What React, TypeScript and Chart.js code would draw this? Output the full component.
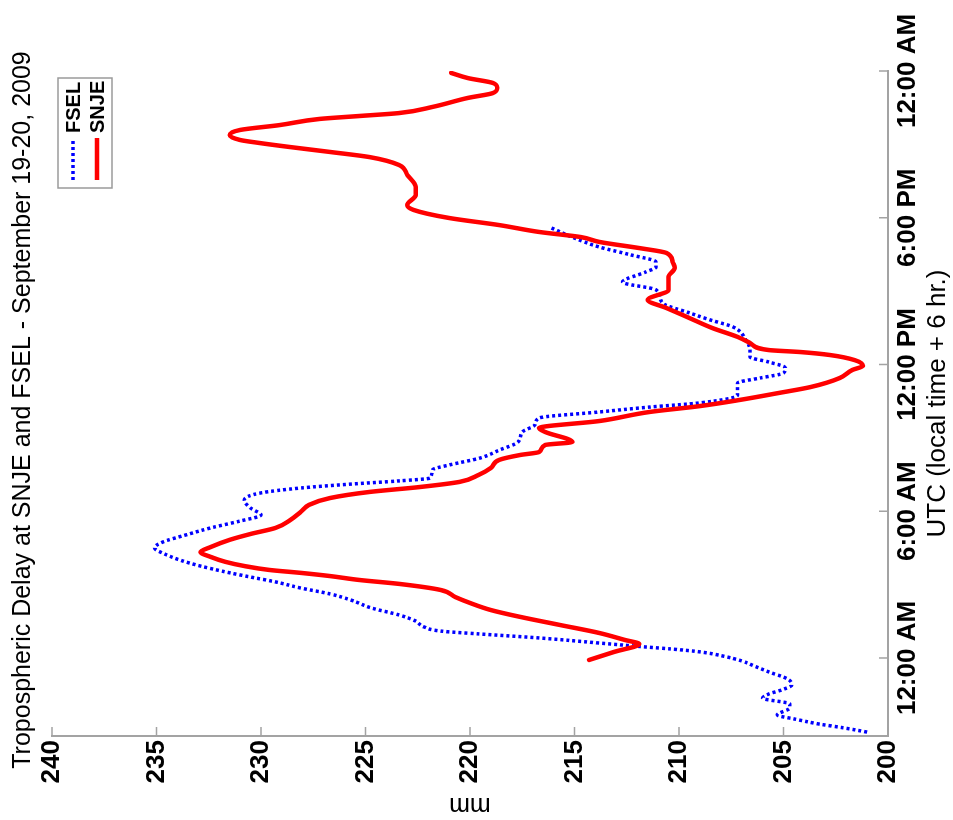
import React, { useEffect, useRef } from 'react';
import { Chart, registerables } from 'chart.js';

Chart.register(...registerables);

// Hours relative to 00:00 UTC, 20 Sep 2009 (negative = 19 Sep)
const fselHours = [
  -3.03, -2.86, -2.70, -2.49, -2.33, -2.04, -1.88, -1.64, -1.47, -1.31, -1.10, -0.86, -0.57, -0.33, -0.12,
  0.08, 0.25, 0.37, 0.45, 0.61, 0.82, 0.98, 1.10, 1.27, 1.51, 1.76, 2.04, 2.37, 2.62, 2.86, 3.11, 3.31,
  3.52, 3.76, 4.01, 4.25, 4.50, 4.74, 5.03, 5.32, 5.60, 5.85, 6.13, 6.46, 6.75, 6.95, 7.11, 7.24, 7.36,
  7.69, 7.89, 8.18, 8.50, 8.83, 9.24, 9.53, 9.81, 10.06, 10.26, 10.43, 10.75, 11.24, 11.45, 11.65, 11.86,
  12.10, 12.31, 12.59, 13.00, 13.53, 13.82, 14.11, 14.52, 15.05, 15.37, 15.78, 15.99, 16.19, 16.48, 16.80,
  17.17, 17.58,
];
const fselMm = [
  201.0, 202.1, 203.3, 204.5, 205.3, 204.7, 204.7, 206.0, 205.7, 205.1, 204.6, 204.8, 205.7, 206.4, 207.0,
  207.9, 209.0, 210.4, 211.6, 213.8, 216.7, 219.5, 221.4, 222.2, 222.6, 223.4, 224.7, 225.7, 226.7, 228.1,
  229.3, 230.5, 231.7, 232.9, 233.9, 234.6, 235.1, 234.7, 233.6, 232.4, 231.0, 230.0, 230.5, 230.8, 230.0,
  228.1, 225.7, 223.4, 221.9, 221.8, 221.0, 219.5, 218.6, 217.7, 217.5, 216.9, 216.7, 213.8, 211.4, 209.0,
  207.2, 207.2, 206.1, 205.0, 204.9, 205.7, 206.6, 206.6, 206.8, 207.4, 208.5, 209.5, 210.8, 211.1, 212.7,
  211.6, 211.1, 211.1, 212.3, 213.8, 215.0, 216.1,
];

const snjeHours = [
  -0.08, 0.25, 0.57, 0.74, 1.02, 1.35, 1.68, 1.96, 2.25, 2.49, 2.78, 3.03, 3.19, 3.35, 3.48, 3.60, 3.76,
  3.93, 4.13, 4.33, 4.54, 4.83, 5.07, 5.32, 5.64, 5.97, 6.26, 6.54, 6.79, 6.99, 7.20, 7.48, 7.77, 8.10,
  8.30, 8.42, 8.71, 8.83, 9.24, 9.40, 9.69, 10.06, 10.30, 10.55, 10.84, 11.08, 11.45, 11.78, 11.94, 12.18,
  12.39, 12.51, 12.59, 12.88, 13.13, 13.49, 13.90, 14.31, 14.64, 15.05, 15.58, 15.95, 16.19, 16.56, 16.76,
  17.01, 17.21, 17.42, 17.70, 17.99, 18.32, 18.52, 18.93, 19.26, 19.75, 20.16, 20.48, 20.69, 20.89, 21.06,
  21.18, 21.38, 21.59, 21.79, 22.04, 22.16, 22.28, 22.53, 22.90, 23.10, 23.31, 23.51, 23.71, 23.92,
];
const snjeMm = [
  214.3, 213.1, 211.9, 212.6, 213.8, 215.7, 217.6, 219.0, 220.0, 220.7, 221.4, 223.4, 225.3, 226.7, 228.1,
  229.6, 230.8, 231.7, 232.4, 232.9, 232.4, 231.5, 230.5, 229.3, 228.6, 228.1, 227.7, 226.7, 224.8, 222.4,
  220.5, 219.6, 219.0, 218.6, 217.6, 216.7, 216.4, 215.1, 216.4, 216.7, 213.8, 211.4, 209.0, 207.1, 205.2,
  203.7, 202.3, 201.7, 201.2, 201.6, 202.8, 204.2, 205.7, 206.6, 207.2, 208.4, 209.5, 210.6, 211.5, 210.5,
  210.5, 210.2, 210.3, 210.6, 211.9, 213.8, 214.7, 216.7, 218.6, 221.0, 222.7, 223.0, 222.6, 222.6, 223.0,
  223.4, 224.8, 226.7, 228.6, 230.1, 231.0, 231.5, 231.0, 229.1, 227.2, 225.3, 223.4, 221.8, 220.1, 218.9,
  218.7, 218.9, 220.1, 220.9,
];

const timeTickHours = [0, 6, 12, 18, 24];
const timeTickLabels = ['12:00 AM', '6:00 AM', '12:00 PM', '6:00 PM', '12:00 AM'];
const mmTickValues = [200, 205, 210, 215, 220, 225, 230, 235, 240];

const titleText = 'Tropospheric Delay at SNJE and FSEL - September 19-20, 2009';
const xTitleText = 'UTC (local time + 6 hr.)';
const yTitleText = 'mm';

const FONT = '"Liberation Sans", Arial, Helvetica, sans-serif';
const AXIS = '#a3a3a3';
const CW = 820; // canvas width before rotation (screen height)
const CH = 953; // canvas height before rotation (screen width)

const inwardTicks = {
  id: 'inwardTicks',
  afterDraw(chart: any) {
    const { ctx, chartArea, scales } = chart;
    ctx.save();
    ctx.strokeStyle = AXIS;
    ctx.lineWidth = 1.5;
    ctx.beginPath();
    for (const t of scales.x.ticks) {
      const px = scales.x.getPixelForValue(t.value);
      ctx.moveTo(px, chartArea.bottom);
      ctx.lineTo(px, chartArea.bottom - 9);
    }
    for (const t of scales.y.ticks) {
      const py = scales.y.getPixelForValue(t.value);
      ctx.moveTo(chartArea.left, py);
      ctx.lineTo(chartArea.left + 9, py);
    }
    ctx.stroke();
    ctx.restore();
  },
};

const boxLegend = {
  id: 'boxLegend',
  afterDraw(chart: any) {
    const { ctx, chartArea } = chart;
    const w = 110;
    const h = 54;
    const x0 = chartArea.right - 7 - w;
    const y0 = chartArea.top + 6;
    ctx.save();
    ctx.fillStyle = '#ffffff';
    ctx.fillRect(x0, y0, w, h);
    ctx.strokeStyle = '#9a9a9a';
    ctx.lineWidth = 1.5;
    ctx.strokeRect(x0, y0, w, h);
    chart.data.datasets.forEach((ds: any, i: number) => {
      const cy = y0 + 15 + i * 24;
      ctx.beginPath();
      ctx.setLineDash(ds.borderDash || []);
      ctx.strokeStyle = ds.borderColor;
      ctx.lineWidth = ds.borderWidth;
      ctx.lineCap = 'butt';
      ctx.moveTo(x0 + 8, cy);
      ctx.lineTo(x0 + 50, cy);
      ctx.stroke();
      ctx.setLineDash([]);
      ctx.fillStyle = '#000';
      ctx.font = `bold 20px ${FONT}`;
      ctx.textBaseline = 'middle';
      ctx.textAlign = 'left';
      ctx.fillText(ds.label, x0 + 55, cy + 1);
    });
    ctx.restore();
  },
};

export default function App() {
  const canvasRef = useRef<HTMLCanvasElement | null>(null);

  useEffect(() => {
    const canvas = canvasRef.current;
    if (!canvas) return;
    const chart = new Chart(canvas, {
      type: 'line',
      data: {
        datasets: [
          {
            label: 'FSEL',
            data: fselHours.map((h, i) => ({ x: h, y: fselMm[i] })),
            borderColor: '#0000ff',
            backgroundColor: '#0000ff',
            borderWidth: 3.5,
            borderDash: [3, 3],
            borderCapStyle: 'butt',
            pointRadius: 0,
            fill: false,
            cubicInterpolationMode: 'monotone',
            order: 2,
          },
          {
            label: 'SNJE',
            data: snjeHours.map((h, i) => ({ x: h, y: snjeMm[i] })),
            borderColor: '#ff0000',
            backgroundColor: '#ff0000',
            borderWidth: 4.5,
            borderJoinStyle: 'round',
            borderCapStyle: 'round',
            pointRadius: 0,
            fill: false,
            cubicInterpolationMode: 'monotone',
            order: 1,
          },
        ],
      },
      options: {
        responsive: false,
        animation: false,
        devicePixelRatio: 1,
        layout: { padding: 0 },
        plugins: {
          legend: { display: false },
          tooltip: { enabled: false },
          title: {
            display: true,
            text: titleText,
            color: '#000',
            font: { family: FONT, size: 25, weight: 'normal', lineHeight: 1.2 },
            padding: { top: 8, bottom: 14 },
          },
        },
        scales: {
          x: {
            type: 'linear',
            position: 'bottom',
            min: -3.19,
            max: 24,
            afterBuildTicks: (s: any) => {
              s.ticks = timeTickHours.map((v) => ({ value: v }));
            },
            afterFit: (s: any) => {
              s.height = 65;
            },
            grid: { display: false, drawTicks: false },
            border: { display: true, color: AXIS, width: 2 },
            ticks: {
              autoSkip: false,
              maxRotation: 0,
              minRotation: 0,
              padding: 4,
              color: '#000',
              font: { family: FONT, size: 26, weight: 'bold' },
              callback: (v: any) => {
                const i = timeTickHours.indexOf(Number(v));
                return i >= 0 ? timeTickLabels[i] : '';
              },
            },
            title: {
              display: true,
              text: xTitleText,
              color: '#000',
              font: { family: FONT, size: 26, weight: 'normal', lineHeight: 1.2 },
              padding: { top: 0, bottom: 0 },
            },
          },
          y: {
            type: 'linear',
            position: 'left',
            min: 200,
            max: 240,
            afterBuildTicks: (s: any) => {
              s.ticks = mmTickValues.map((v) => ({ value: v }));
            },
            afterFit: (s: any) => {
              s.width = 84;
            },
            grid: { display: false, drawTicks: false },
            border: { display: true, color: AXIS, width: 2 },
            ticks: {
              padding: 4,
              color: '#000',
              font: { family: FONT, size: 26, weight: 'bold' },
            },
            title: {
              display: true,
              text: yTitleText,
              color: '#000',
              font: { family: FONT, size: 25, weight: 'normal', lineHeight: 1.2 },
              padding: { top: 0, bottom: 0 },
            },
          },
          // empty spacer on the right so the plot ends where the reference's does
          spacer: {
            type: 'linear',
            position: 'right',
            display: true,
            afterFit: (s: any) => {
              s.width = 71;
            },
            grid: { display: false, drawTicks: false },
            border: { display: false },
            ticks: { display: false },
            title: { display: false },
          },
        },
      },
      plugins: [inwardTicks, boxLegend],
    } as any);
    return () => chart.destroy();
  }, []);

  return (
    <div
      style={{
        position: 'fixed',
        left: 0,
        top: 0,
        width: CH,
        height: CW,
        overflow: 'hidden',
        background: '#ffffff',
      }}
    >
      <canvas
        ref={canvasRef}
        width={CW}
        height={CH}
        style={{
          position: 'absolute',
          left: 0,
          top: 0,
          width: CW,
          height: CH,
          transformOrigin: '0 0',
          transform: `translate(0px, ${CW}px) rotate(-90deg)`,
          display: 'block',
        }}
      />
    </div>
  );
}
